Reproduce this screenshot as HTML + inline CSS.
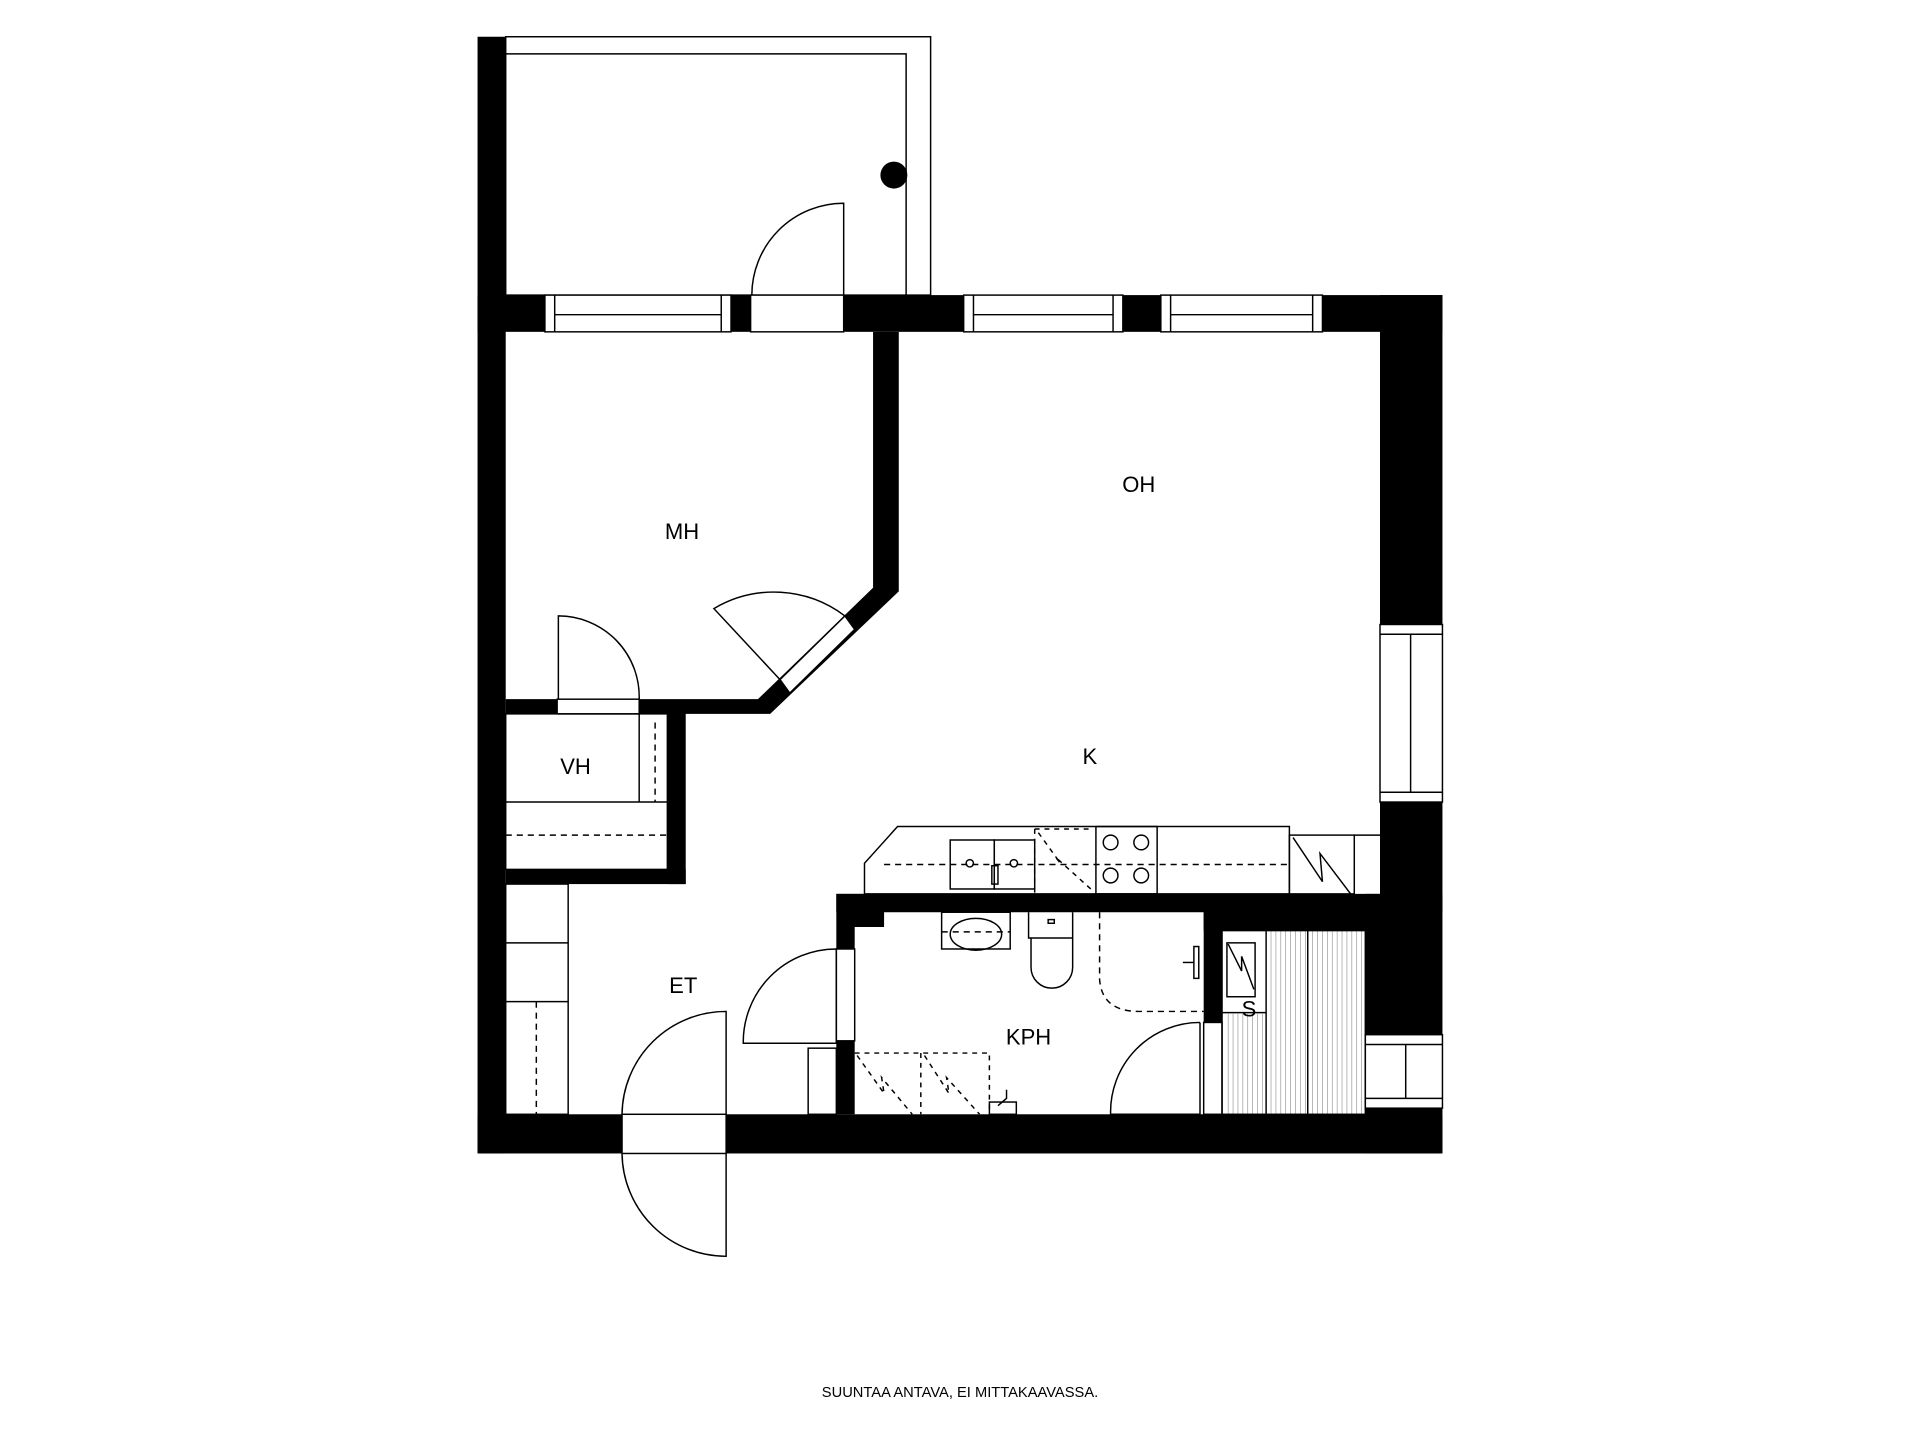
<!DOCTYPE html>
<html><head><meta charset="utf-8"><style>html,body{margin:0;padding:0;background:#fff}svg{display:block}text{font-family:"Liberation Sans",sans-serif;fill:#000}</style></head><body>
<svg width="1920" height="1440" viewBox="0 0 1568 1176" xmlns="http://www.w3.org/2000/svg">
<g fill="none" stroke="#000" stroke-width="1.2">
<rect x="413" y="30" width="347" height="211"/>
<polyline points="413,44 740,44 740,241"/>
</g>
<circle cx="730" cy="143" r="11" fill="#000"/>
<g fill="#000">
<rect x="390" y="30" width="23" height="912"/>
<rect x="390" y="241" width="55" height="30"/>
<rect x="597" y="241" width="16" height="30"/>
<rect x="689" y="241" width="98" height="30"/>
<rect x="917" y="241" width="31" height="30"/>
<rect x="1080" y="241" width="98" height="30"/>
<rect x="1127" y="241" width="51" height="269"/>
<rect x="1127" y="655" width="51" height="90"/>
<rect x="1115" y="730" width="63" height="115"/>
<rect x="1115" y="905" width="63" height="37"/>
<rect x="390" y="910" width="118" height="32"/>
<rect x="593" y="910" width="585" height="32"/>
<polygon points="713,271 734,271 734,483 629,583 413,583 413,571 619,571 713,480"/>
<rect x="545" y="582" width="15" height="140"/>
<rect x="413" y="710" width="147" height="12"/>
<rect x="683" y="730" width="444" height="15"/>
<polygon points="683,730 722,730 722,757 698,757 698,775 683,775"/>
<rect x="683" y="850" width="15" height="60"/>
<rect x="983" y="745" width="15" height="90"/>
</g>
<g fill="#fff" stroke="#000" stroke-width="1.2">
<rect x="445" y="241" width="152" height="30"/><line x1="453" y1="241" x2="453" y2="271"/><line x1="589" y1="241" x2="589" y2="271"/><line x1="453" y1="257" x2="589" y2="257"/>
<rect x="613" y="241" width="76" height="30"/>
<rect x="787" y="241" width="130" height="30"/><line x1="795" y1="241" x2="795" y2="271"/><line x1="909" y1="241" x2="909" y2="271"/><line x1="795" y1="257" x2="909" y2="257"/>
<rect x="948" y="241" width="132" height="30"/><line x1="956" y1="241" x2="956" y2="271"/><line x1="1072" y1="241" x2="1072" y2="271"/><line x1="956" y1="257" x2="1072" y2="257"/>
<rect x="1127" y="510" width="51" height="145"/><line x1="1127" y1="518" x2="1178" y2="518"/><line x1="1127" y1="647" x2="1178" y2="647"/><line x1="1152" y1="518" x2="1152" y2="647"/>
<rect x="1115" y="845" width="63" height="60"/><line x1="1115" y1="853" x2="1178" y2="853"/><line x1="1115" y1="897" x2="1178" y2="897"/><line x1="1148" y1="853" x2="1148" y2="897"/>
<rect x="455" y="571" width="67" height="12"/>
<rect x="683" y="775" width="15" height="75"/>
<rect x="508" y="910" width="85" height="32"/>
<rect x="983" y="835" width="15" height="75"/>
</g>
<polygon points="690,503 698,514 645,566 637,555" fill="#fff" stroke="#000" stroke-width="1.2"/>
<g fill="none" stroke="#000" stroke-width="1.2">
<path d="M689,241 L689,166 A75,75 0 0 0 614,241"/>
<path d="M456,571 L456,503 A66,66 0 0 1 522,571"/>
<path d="M637,555 L583,497 A96,96 0 0 1 690,503"/>
<path d="M683,775 L683,852 L607,852 A76,76 0 0 1 683,775"/>
<path d="M593,910 L593,826 A85,85 0 0 0 508,910"/>
<path d="M593,942 L593,1026 A85,85 0 0 1 508,942"/>
<path d="M980,835 L980,910 L907,910 A73,73 0 0 1 980,835"/>
<rect x="413" y="583" width="132" height="127"/>
<line x1="413" y1="655" x2="545" y2="655"/>
<line x1="522" y1="583" x2="522" y2="655"/>
<line x1="413" y1="682" x2="545" y2="682" stroke-dasharray="5,4"/>
<line x1="535" y1="590" x2="535" y2="655" stroke-dasharray="5,4"/>
<rect x="413" y="722" width="51" height="188"/>
<line x1="413" y1="770" x2="464" y2="770"/><line x1="413" y1="818" x2="464" y2="818"/>
<line x1="438" y1="818" x2="438" y2="910" stroke-dasharray="5,4"/>
<rect x="660" y="856" width="23" height="54"/>
<path d="M1053,675 L733,675 L706,705 L706,730 L1053,730 Z"/>
<line x1="722" y1="706" x2="1053" y2="706" stroke-dasharray="5,4"/>
<rect x="776" y="686" width="36" height="40"/><rect x="812" y="686" width="33" height="40"/>
<rect x="810" y="707" width="5" height="15"/>
<circle cx="792" cy="705" r="3"/><circle cx="828" cy="705" r="3"/>
<path d="M845,677 L845,730 M845,677 L893,677 M848,680 L866,705 L862,700 L893,728" stroke-dasharray="4,4"/>
<rect x="895" y="675" width="50" height="55"/>
<circle cx="907" cy="688" r="6"/><circle cx="932" cy="688" r="6"/><circle cx="907" cy="715" r="6"/><circle cx="932" cy="715" r="6"/>
<rect x="1053" y="682" width="53" height="48"/>
<line x1="1106" y1="682" x2="1127" y2="682"/>
<path d="M1056,684 L1080,720 L1078,697 L1103,730"/>
<rect x="769" y="745" width="56" height="30"/>
<ellipse cx="797" cy="763" rx="21" ry="13"/>
<line x1="769" y1="761" x2="825" y2="761" stroke-dasharray="5,4"/>
<path d="M840,745 L840,766 L876,766 L876,745 M842,766 L842,790 A17,17 0 0 0 876,790 L876,766"/>
<rect x="856" y="751" width="5" height="3"/>
<path d="M898,745 L898,800 Q900,826 930,826 L983,826" stroke-dasharray="5,4"/>
<rect x="975" y="773" width="4" height="26"/><path d="M975,786 L966,786"/>
<path d="M698,860 L808,860 L808,910 M752,860 L752,910 M700,862 L722,893 L720,880 L745,910 M755,862 L775,893 L773,880 L800,910" stroke-dasharray="4,4"/>
<rect x="808" y="900" width="22" height="10"/>
<path d="M815,903 L822,897 L822,890"/>
<rect x="998" y="760" width="117" height="150"/>
<line x1="1034" y1="760" x2="1034" y2="910"/><line x1="1068" y1="760" x2="1068" y2="910"/>
<line x1="998" y1="827" x2="1034" y2="827"/>
<rect x="1002" y="770" width="23" height="44"/>
<path d="M1003,771 L1014,793 L1014,781 L1024,808"/>
</g>
<g stroke="#000" stroke-width="0.5" opacity="0.45">
<path d="M1003,828V910M1007,828V910M1011,828V910M1015,828V910M1019,828V910M1023,828V910M1027,828V910M1031,828V910M1038,760V910M1042,760V910M1046,760V910M1050,760V910M1054,760V910M1058,760V910M1062,760V910M1066,760V910M1072,760V910M1076,760V910M1080,760V910M1084,760V910M1088,760V910M1092,760V910M1096,760V910M1100,760V910M1104,760V910M1108,760V910M1112,760V910"/>
</g>
<g font-size="18">
<text x="930" y="402" text-anchor="middle">OH</text>
<text x="557" y="440" text-anchor="middle">MH</text>
<text x="470" y="632" text-anchor="middle">VH</text>
<text x="890" y="624" text-anchor="middle">K</text>
<text x="558" y="811" text-anchor="middle">ET</text>
<text x="840" y="853" text-anchor="middle">KPH</text>
<text x="1020" y="830" text-anchor="middle">S</text>
</g>
<text x="784" y="1141" text-anchor="middle" font-size="12">SUUNTAA ANTAVA, EI MITTAKAAVASSA.</text>
<rect x="983" y="744" width="145" height="16" fill="#000"/>
</svg>
</body></html>
